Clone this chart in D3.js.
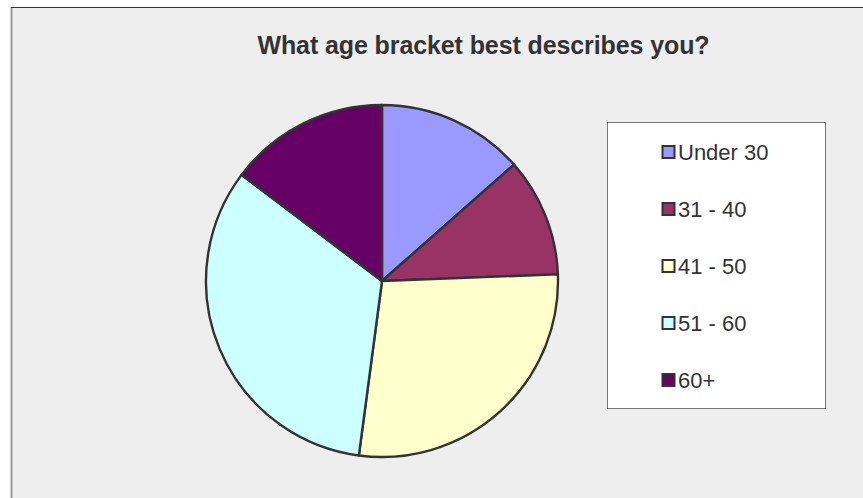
<!DOCTYPE html>
<html><head><meta charset="utf-8">
<script src="https://cdn.jsdelivr.net/npm/d3@7"></script>
<style>html,body{margin:0;padding:0;background:#fff;}svg{display:block;}</style>
</head><body>
<svg id="c" width="863" height="498"></svg>
<script>
const categories = ["Under 30", "31 - 40", "41 - 50", "51 - 60", "60+"];
const values = [13.5, 10.9, 27.7, 33.2, 14.7];
const colors = ["#9999FF", "#993366", "#FFFFCC", "#CCFFFF", "#660066"];
const title = "What age bracket best describes you?";

const svg = d3.select("#c");
// chart area
svg.append("rect").attr("x", 12).attr("y", 7).attr("width", 860).attr("height", 500).attr("fill", "#EEEEEE");
svg.append("line").attr("x1", 11.5).attr("x2", 11.5).attr("y1", 7).attr("y2", 498).attr("stroke", "#999").attr("stroke-width", 2);
svg.append("line").attr("x1", 11).attr("x2", 863).attr("y1", 7.5).attr("y2", 7.5).attr("stroke", "#333").attr("stroke-width", 1);

svg.append("text").attr("x", 483.5).attr("y", 54).attr("text-anchor", "middle")
  .attr("font-family", "Liberation Sans, Arial, sans-serif").attr("font-weight", "bold")
  .attr("font-size", 25).attr("fill", "#333").attr("letter-spacing", -0.1).text(title);

const cx = 382, cy = 281, r = 176;
const pie = d3.pie().sort(null).value(d => d)(values);
const arc = d3.arc().innerRadius(0).outerRadius(r);
const g = svg.append("g").attr("transform", `translate(${cx},${cy})`);
g.selectAll("path").data(pie).join("path")
  .attr("d", arc).attr("fill", (d, i) => colors[i])
  .attr("stroke", "#333").attr("stroke-width", 2.4).attr("stroke-linejoin", "round");

// legend
svg.append("rect").attr("x", 607.5).attr("y", 122.5).attr("width", 218).attr("height", 286)
  .attr("fill", "#fff").attr("stroke", "#777").attr("stroke-width", 1);
const ly = d3.scalePoint().domain(categories).range([152, 380]);
const lg = svg.append("g");
categories.forEach((c, i) => {
  lg.append("rect").attr("x", 662.5).attr("y", ly(c) - 6).attr("width", 12).attr("height", 12)
    .attr("fill", colors[i]).attr("stroke", "#333").attr("stroke-width", 2);
  lg.append("text").attr("x", 678).attr("y", ly(c) + 7.5)
    .attr("font-family", "Liberation Sans, Arial, sans-serif").attr("font-size", 22)
    .attr("fill", "#333").text(c);
});
</script>
</body></html>
